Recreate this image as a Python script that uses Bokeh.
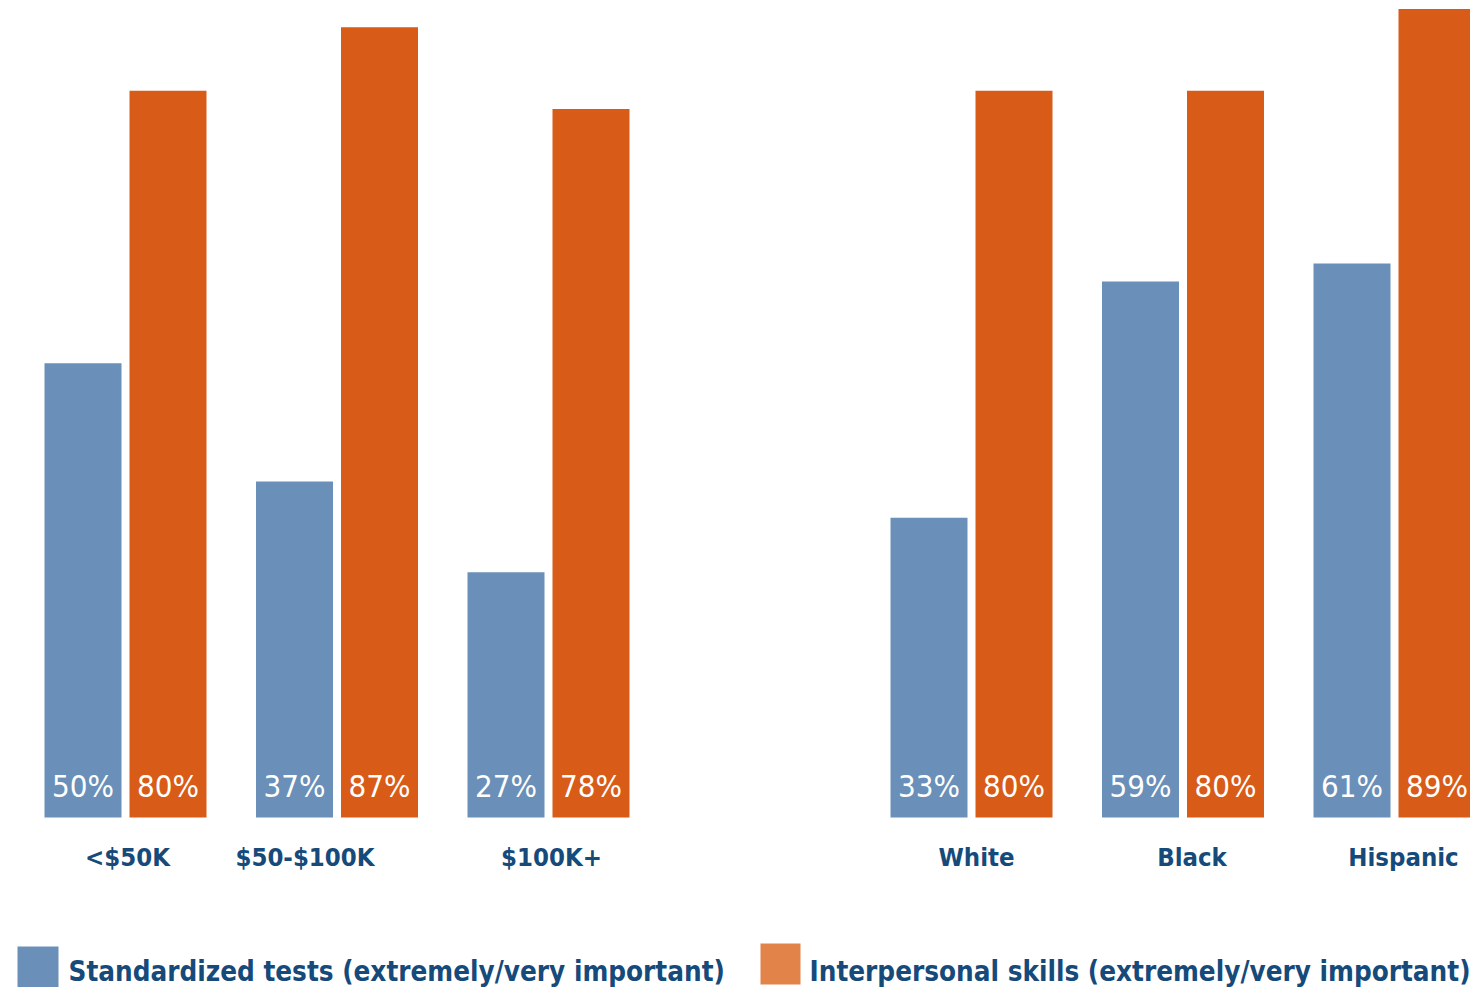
from bokeh.plotting import figure
from bokeh.models import ColumnDataSource, Range1d
from bokeh.core.properties import value
from bokeh.embed import file_html
from bokeh.resources import INLINE
from bokeh.transform import dodge

# ---------------- data ----------------
income_groups = ["<$50K", "$50-$100K", "$100K+"]
race_groups = ["White", "Black", "Hispanic"]
standardized_tests = [50, 37, 27, 33, 59, 61]
interpersonal_skills = [80, 87, 78, 80, 80, 89]
series_names = ["Standardized tests (extremely/very important)",
                "Interpersonal skills (extremely/very important)"]

# ---------------- style / layout ----------------
BLUE = "#6a8fb8"
ORANGE = "#d85b18"
ORANGE_KEY = "#e2834a"
NAVY = "#154a7b"
FONT = "'DejaVu Sans Condensed', sans-serif"

W, H = 1470, 987
SLOT_PX = 211.5
FIRST_CENTER_PX = 125
BASE_PX = 817
PX_PER_PCT = 9.083
BAR_W_PX = 77
BAR_SHIFT_PX = 42.5
# small horizontal nudges of the category labels (pixels)
LABEL_SHIFT_PX = {"<$50K": 2, "$50-$100K": -32, "$100K+": 3,
                  "White": 5, "Black": 9, "Hispanic": 9}

categories = income_groups + race_groups
slots = list(range(len(income_groups))) + \
    [len(income_groups) + 1 + i for i in range(len(race_groups))]

x0 = -FIRST_CENTER_PX / SLOT_PX
x_range = Range1d(x0, x0 + W / SLOT_PX)
y_range = Range1d(-(H - BASE_PX) / PX_PER_PCT, BASE_PX / PX_PER_PCT)


def px_x(px):
    return x0 + px / SLOT_PX


def px_y(py):
    return (BASE_PX - py) / PX_PER_PCT


src = ColumnDataSource(dict(
    cat=categories,
    slot=slots,
    std=standardized_tests,
    inter=interpersonal_skills,
    std_label=[f"{v}%" for v in standardized_tests],
    inter_label=[f"{v}%" for v in interpersonal_skills],
    cat_dx=[LABEL_SHIFT_PX.get(c, 0) for c in categories],
))

p = figure(width=W, height=H, x_range=x_range, y_range=y_range,
           output_backend="svg", toolbar_location=None, min_border=0)
p.xaxis.visible = False
p.yaxis.visible = False
p.xgrid.grid_line_color = None
p.ygrid.grid_line_color = None
p.outline_line_color = None
p.background_fill_color = "white"
p.border_fill_color = "white"

bw = BAR_W_PX / SLOT_PX
sh = BAR_SHIFT_PX / SLOT_PX

p.vbar(x=dodge("slot", -sh), top="std", bottom=0, width=bw, source=src,
       fill_color=BLUE, line_color=None)
p.vbar(x=dodge("slot", sh), top="inter", bottom=0, width=bw, source=src,
       fill_color=ORANGE, line_color=None)

val_y = px_y(785)
common_val = dict(y=val_y, text_color="white", text_align="center",
                  text_baseline="alphabetic", text_font=value(FONT),
                  text_font_size="31px", source=src)
p.text(x=dodge("slot", -sh), text="std_label", **common_val)
p.text(x=dodge("slot", sh), text="inter_label", **common_val)

# category labels
p.text(x="slot", y=px_y(856), text="cat", x_offset="cat_dx", source=src,
       text_color=NAVY, text_align="center", text_baseline="alphabetic",
       text_font=value(FONT), text_font_style="bold", text_font_size="25.5px")

# legend (manual)
key_colors = [BLUE, ORANGE_KEY]
key_boxes_px = [(17, 58, 946, 987), (760, 800, 943, 984)]
key_text_px = [68, 809]
for name, col, (l, r, t, b), tx in zip(series_names, key_colors, key_boxes_px, key_text_px):
    p.quad(left=[px_x(l)], right=[px_x(r)], top=[px_y(t)], bottom=[px_y(b)],
           fill_color=col, line_color=None)
    p.text(x=[px_x(tx)], y=[px_y(971)], text=[name], text_color=NAVY,
           text_align="left", text_baseline="alphabetic",
           text_font=value(FONT), text_font_style="bold", text_font_size="27.6px")

open("out.html", "w").write(file_html(p, INLINE))
